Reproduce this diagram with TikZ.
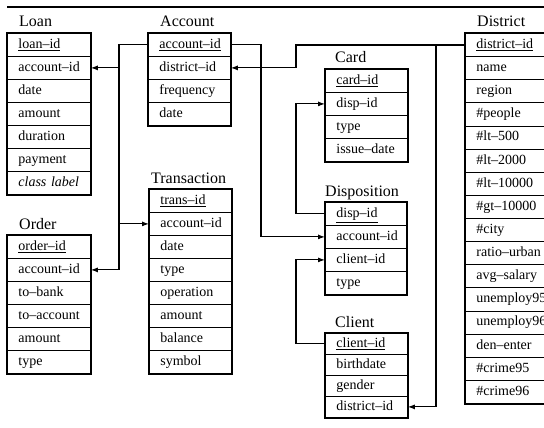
\documentclass[tikz,border=0pt]{standalone}
\usepackage{fontspec}
\setmainfont{Liberation Serif}
\usetikzlibrary{arrows.meta}

\tikzset{
  field/.style={draw, line width=0.8pt, rectangle, anchor=north west,
    inner xsep=11pt, inner ysep=0pt, align=left,
    text height=10pt, text depth=3pt,
    font=\fontsize{14}{16}\selectfont},
  tabletitle/.style={anchor=base west, inner sep=0pt,
    font=\fontsize{16}{18}\selectfont},
  frame/.style={draw, line width=1.6pt},
  conn/.style={draw, line width=1.1pt},
  arr/.style={conn, -{Latex[length=7pt,width=5pt]}},
}

% #1 name, #2 title, #3 title offset, #4 left, #5 top,
% #6 width, #7 row height, #8 list of fields
\newcommand\dbtable[8]{%
  \node[tabletitle] (#1-title) at (#4+#3, #5-6) {#2};
  \pgfmathsetmacro\fieldtw{#6-22}%
  \foreach \txt [count=\k] in {#8}{%
    \node[field, minimum width=#6pt, minimum height=#7pt,
          text width=\fieldtw pt] (#1-\k) at (#4, #5+\k*#7-#7) {\mbox{\txt}};
    \xdef\lastrow{\k}%
  }%
  \draw[frame] (#1-1.north west) rectangle (#1-\lastrow.south east);
}

\begin{document}
\begin{tikzpicture}[x=1pt, y=-1pt]
\useasboundingbox (0,0) rectangle (544,428);
\clip (0,0) rectangle (544,428);

% rule across the top
\draw[line width=1.2pt] (7,7) -- (544,7);

\dbtable{loan}{Loan}{12}{7}{33}{83}{23}{%
  \underline{loan–id}, account–id, date, amount, duration, payment,
  \textit{class label}}
\dbtable{account}{Account}{12}{148}{33}{82}{23}{%
  \underline{account–id}, district–id, frequency, date}
\dbtable{card}{Card}{10}{325}{69}{82}{23}{%
  \underline{card–id}, disp–id, type, issue–date}
\dbtable{district}{District}{12}{465}{33}{90}{23.125}{%
  \underline{district–id}, name, region, \#people, \#lt–500, \#lt–2000,
  \#lt–10000, \#gt–10000, \#city, ratio–urban, avg–salary, unemploy95,
  unemploy96, den–enter, \#crime95, \#crime96}
\dbtable{order}{Order}{12}{7}{235}{83}{23}{%
  \underline{order–id}, account–id, to–bank, to–account, amount, type}
\dbtable{trans}{Transaction}{2}{149}{189}{82}{23}{%
  \underline{trans–id}, account–id, date, type, operation, amount,
  balance, symbol}
\dbtable{disp}{Disposition}{0}{325}{202}{81}{23}{%
  \underline{disp–id}, account–id, client–id, type}
\dbtable{client}{Client}{10}{325}{333}{82}{21}{%
  \underline{client–id}, birthdate, gender, district–id}

% vertical runs of the connectors
\coordinate (busL) at (119,0);
\coordinate (busR) at (261,0);
\coordinate (busD) at (296,0);
\coordinate (busC) at (436,0);

% account-id of Account to Loan, Transaction and Order
\draw[arr] (account-1.west) -| (busL |- order-2.east) -- (order-2.east);
\draw[arr] (busL |- loan-2.east) -- (loan-2.east);
\draw[arr] (busL |- trans-2.west) -- (trans-2.west);

% account-id of Account to Disposition
\draw[arr] (account-1.east) -| (busR |- disp-2.west) -- (disp-2.west);

% district-id of District to Account and Client
\draw[arr] (district-1.west) -| (busD |- account-2.east) -- (account-2.east);
\draw[arr] (busC |- district-1.west) -- (busC |- client-4.east) -- (client-4.east);

% disp-id to Card, client-id to Disposition
\draw[arr] (disp-1.west) -| (busD |- card-2.west) -- (card-2.west);
\draw[arr] (client-1.west) -| (busD |- disp-3.west) -- (disp-3.west);
\end{tikzpicture}
\end{document}
